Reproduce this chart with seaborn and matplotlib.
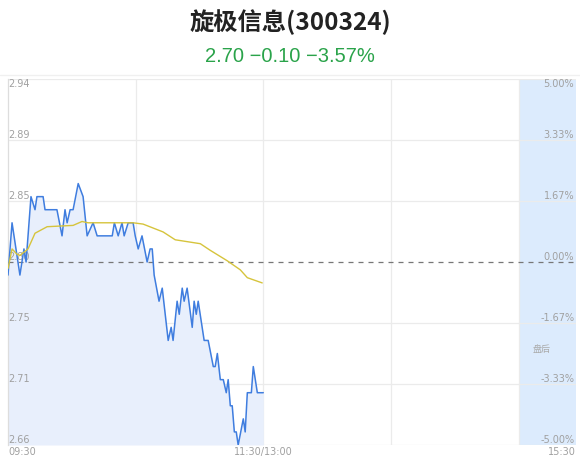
import matplotlib
matplotlib.use("Agg")
import matplotlib.pyplot as plt
import matplotlib.transforms as mtransforms
import seaborn as sns
import pandas as pd

# ---- data ----
price_minutes = [0, 1.9, 5.6, 7.5, 8.5, 10.8, 12.7, 13.6, 16.5, 17.4, 23, 25.4, 26.8, 27.8, 29.2,
                 30.6, 33, 35.3, 37.2, 40, 41.9, 49, 50, 51.8, 53.6, 54.6, 56.5, 58.8, 59.8, 61.2,
                 63, 65.4, 66.8, 67.8, 68.7, 71, 72.5, 75.3, 76.7, 77.6, 79.5, 80.5, 81.9, 82.8,
                 84.2, 86.6, 87.5, 88.5, 89.4, 92.2, 94.1, 96.5, 97.4, 98.4, 99.8, 101.2, 102.6,
                 103.5, 104.5, 105.4, 106.4, 107.3, 108.2, 110.6, 111.5, 112.5, 114.4, 115.3,
                 117.2, 120]
price_values = [2.79, 2.83, 2.79, 2.81, 2.80, 2.85, 2.84, 2.85, 2.85, 2.84, 2.84, 2.82, 2.84, 2.83,
                2.84, 2.84, 2.86, 2.85, 2.82, 2.83, 2.82, 2.82, 2.83, 2.82, 2.83, 2.82, 2.83, 2.83,
                2.82, 2.81, 2.82, 2.80, 2.81, 2.81, 2.79, 2.77, 2.78, 2.74, 2.75, 2.74, 2.77, 2.76,
                2.78, 2.77, 2.78, 2.75, 2.77, 2.76, 2.77, 2.74, 2.74, 2.72, 2.72, 2.73, 2.71, 2.71,
                2.70, 2.71, 2.69, 2.69, 2.67, 2.67, 2.66, 2.68, 2.67, 2.70, 2.70, 2.72, 2.70, 2.70]
avg_minutes = [0, 1.9, 4.2, 5.6, 9.4, 12.7, 18.4, 30.6, 34.8, 37.6, 58.8, 63.5, 72.9, 78.6, 90.4,
               95, 103, 109.2, 112.5, 119.5]
avg_values = [2.795, 2.81, 2.806, 2.805, 2.81, 2.822, 2.827, 2.828, 2.831, 2.83, 2.83, 2.829,
              2.823, 2.817, 2.814, 2.809, 2.801, 2.794, 2.788, 2.784]
prev_close = 2.80
price_ticks = ["2.94", "2.89", "2.85", "2.80", "2.75", "2.71", "2.66"]
pct_ticks = ["5.00%", "3.33%", "1.67%", "0.00%", "-1.67%", "-3.33%", "-5.00%"]
time_labels = ["09:30", "11:30/13:00", "15:30"]
title = "旋极信息(300324)"
subtitle = "2.70 \u22120.10 \u22123.57%"

# ---- plot ----
sns.set_theme(style="white")
plt.rcParams['font.family'] = ['Noto Sans CJK SC', 'DejaVu Sans']

fig = plt.figure(figsize=(5.8, 4.67), dpi=100)
ax = fig.add_axes([8/580, 1-445/467, 568/580, (445-79)/467])

x_end = 267
ax.set_xlim(0, x_end)
ymin, ymax = prev_close * 0.95, prev_close * 1.05
ax.set_ylim(ymin, ymax)

# post-market shading
ax.axvspan(240, x_end, color="#dcebfd", zorder=0, lw=0)

# grid lines
levels = [prev_close * (1 + p) for p in [0.05, 1/30, 1/60, 0, -1/60, -1/30, -0.05]]
for i, lv in enumerate(levels):
    if i == 3:
        ax.axhline(lv, color="#777777", lw=0.9, ls=(0, (4, 4)), zorder=3)
    else:
        ax.axhline(lv, color="#ebebeb", lw=0.9, zorder=1)
for xv in [60, 120, 180, 240]:
    ax.axvline(xv, color="#ebebeb", lw=0.9, zorder=1)

df_p = pd.DataFrame({"t": price_minutes, "p": price_values})
df_a = pd.DataFrame({"t": avg_minutes, "p": avg_values})
ax.fill_between(df_p["t"], df_p["p"], ymin, color="#e8effc", zorder=1.5, lw=0)
sns.lineplot(data=df_p, x="t", y="p", ax=ax, color="#3f7ddf", lw=1.1, zorder=4)
sns.lineplot(data=df_a, x="t", y="p", ax=ax, color="#d6c43c", lw=1.0, zorder=4)

ax.set_xticks([]); ax.set_yticks([])
ax.set_xlabel(""); ax.set_ylabel("")
for s in ["top", "right", "bottom"]:
    ax.spines[s].set_visible(False)
ax.spines["left"].set_color("#dddddd")
ax.spines["left"].set_linewidth(0.9)

# tick labels
lab_col = "#a0a0a0"
trL = mtransforms.blended_transform_factory(ax.transAxes, ax.transData)
for i, (lv, pl, cl) in enumerate(zip(levels, price_ticks, pct_ticks)):
    va = "top" if i == 0 else "bottom"
    ax.text(0.0, lv, pl, transform=trL, ha="left", va=va, fontsize=7, color=lab_col,
            family=["DejaVu Sans"])
    ax.text(0.997, lv, cl, transform=trL, ha="right", va=va, fontsize=7, color=lab_col,
            family=["DejaVu Sans"])
ax.text(0.94, 2.733, "盘后", transform=trL, ha="center",
        va="center", fontsize=6.5, color="#aaaaaa")

trX = mtransforms.blended_transform_factory(ax.transData, ax.transAxes)
ax.text(0, -0.005, time_labels[0], transform=trX, ha="left", va="top", fontsize=7, color=lab_col,
        family=["DejaVu Sans"])
ax.text(120, -0.005, time_labels[1], transform=trX, ha="center", va="top", fontsize=7,
        color=lab_col, family=["DejaVu Sans"])
ax.text(x_end, -0.005, time_labels[2], transform=trX, ha="right", va="top", fontsize=7,
        color=lab_col, family=["DejaVu Sans"])

fig.text(0.5, 1 - 22/467, title, ha="center", va="center", fontsize=17.5, color="#222222",
         fontweight="bold")
fig.text(0.5, 1 - 57/467, subtitle, ha="center", va="center", fontsize=14.5, color="#2aa34a",
         family=["Liberation Sans", "DejaVu Sans"])
fig.add_artist(plt.Line2D([0, 1], [1 - 75/467, 1 - 75/467], transform=fig.transFigure,
                          color="#f0f0f0", lw=1))

fig.savefig("out.png", dpi=100)
